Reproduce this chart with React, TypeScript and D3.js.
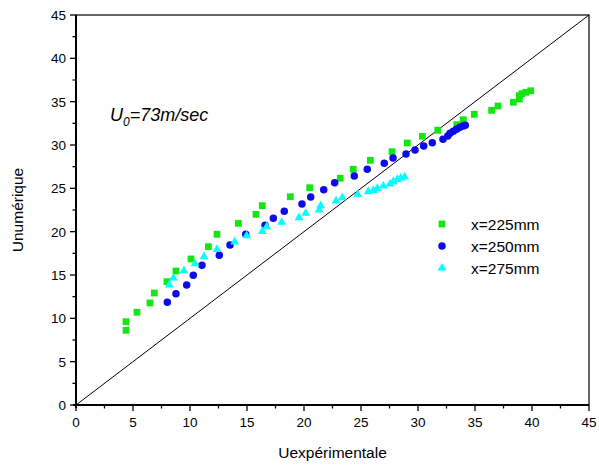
import React from 'react';
import * as d3 from 'd3';

const xTicks = [0, 5, 10, 15, 20, 25, 30, 35, 40, 45];
const yTicks = [0, 5, 10, 15, 20, 25, 30, 35, 40, 45];
const seriesNames = ['x=225mm', 'x=250mm', 'x=275mm'];

const x225 = [4.39, 4.39, 5.35, 6.49, 6.87, 7.98, 8.77, 10.09, 11.61, 12.37, 14.24, 15.79, 16.34, 18.8, 20.5, 23.18, 24.32, 25.82, 27.72, 29.06, 30.38, 31.73, 33.4, 33.97, 34.94, 36.46, 37.02, 38.36, 38.89, 38.89, 39.12, 39.47, 39.89];
const y225 = [8.62, 9.61, 10.7, 11.77, 12.92, 14.23, 15.46, 16.85, 18.27, 19.7, 20.96, 22.0, 23.0, 24.03, 25.07, 26.16, 27.2, 28.23, 29.23, 30.23, 31.0, 31.7, 32.34, 32.92, 33.54, 34.0, 34.5, 34.93, 35.3, 35.69, 35.92, 36.08, 36.26];

const x250 = [8.01, 8.77, 9.71, 10.29, 11.05, 12.57, 13.51, 14.89, 16.58, 17.31, 18.27, 19.82, 20.59, 21.73, 22.69, 24.41, 25.55, 27.04, 27.81, 28.95, 29.74, 30.5, 31.25, 32.19, 32.61, 32.81, 33.1, 33.39, 33.68, 33.97, 34.15];
const y250 = [11.85, 12.85, 13.85, 14.96, 16.12, 17.27, 18.46, 19.7, 20.73, 21.54, 22.35, 23.19, 24.0, 24.84, 25.65, 26.42, 27.2, 27.89, 28.5, 28.96, 29.42, 29.88, 30.26, 30.66, 31.04, 31.35, 31.58, 31.81, 32.04, 32.19, 32.27];

const x275 = [8.18, 8.54, 9.47, 10.44, 11.23, 12.37, 13.92, 14.97, 16.34, 16.73, 18.04, 19.56, 20.15, 21.32, 21.46, 22.81, 23.36, 24.71, 25.64, 26.08, 26.43, 26.96, 27.54, 27.83, 28.18, 28.48, 28.83];
const y275 = [13.85, 14.65, 15.5, 16.3, 17.11, 17.96, 18.81, 19.53, 20.04, 20.57, 21.08, 21.61, 22.12, 22.5, 23.0, 23.54, 23.92, 24.31, 24.61, 24.77, 25.0, 25.27, 25.5, 25.77, 26.04, 26.19, 26.31];

const W = 599;
const H = 465;
const left = 76, right = 589, top = 15, bottom = 405;
const FONT = '"Liberation Sans", Arial, sans-serif';

const colors = ['#14e614', '#0a0aeb', '#00ffff'];
const symbols = [d3.symbolSquare, d3.symbolCircle, d3.symbolTriangle];
const sizes = [46, 44, 34];

export default function App() {
  const xs = d3.scaleLinear().domain([0, 45]).range([left, right]);
  const ys = d3.scaleLinear().domain([0, 45]).range([bottom, top]);

  const series = [
    { xv: x225, yv: y225 },
    { xv: x250, yv: y250 },
    { xv: x275, yv: y275 },
  ];
  const symPaths = symbols.map((s, i) => d3.symbol().type(s).size(sizes[i])() as string);

  const minor = d3.range(0, 45.01, 2.5).filter((v) => v % 5 !== 0);
  const diag = d3.line<number>().x((d) => xs(d)).y((d) => ys(d))([0, 45]) as string;

  const legendY = [224, 246, 268];

  return (
    <svg width={W} height={H} style={{ position: 'absolute', left: 0, top: 0, background: '#fff' }} fontFamily={FONT}>
      <rect x={0} y={0} width={W} height={H} fill="#fff" />
      {/* diagonal */}
      <path d={diag} stroke="#000" strokeWidth={1} fill="none" />
      {/* frame */}
      <rect x={left} y={top} width={right - left} height={bottom - top} fill="none" stroke="#000" strokeWidth={1.2} />
      <line x1={left} x2={left} y1={top} y2={bottom + 3} stroke="#000" strokeWidth={2} />
      <line x1={left - 3} x2={right} y1={bottom} y2={bottom} stroke="#000" strokeWidth={2} />
      {/* x ticks */}
      {xTicks.map((t) => (
        <g key={'xt' + t}>
          <line x1={xs(t)} x2={xs(t)} y1={bottom} y2={bottom + 6} stroke="#000" strokeWidth={1.3} />
          <text x={xs(t)} y={bottom + 22} textAnchor="middle" fontSize={13.5}>{t}</text>
        </g>
      ))}
      {minor.map((t) => (
        <line key={'xm' + t} x1={xs(t)} x2={xs(t)} y1={bottom} y2={bottom + 3.5} stroke="#000" strokeWidth={1.3} />
      ))}
      {/* y ticks */}
      {yTicks.map((t) => (
        <g key={'yt' + t}>
          <line x1={left - 6} x2={left} y1={ys(t)} y2={ys(t)} stroke="#000" strokeWidth={1.3} />
          <text x={left - 10} y={ys(t) + 5} textAnchor="end" fontSize={13.5}>{t}</text>
        </g>
      ))}
      {minor.map((t) => (
        <line key={'ym' + t} x1={left - 3.5} x2={left} y1={ys(t)} y2={ys(t)} stroke="#000" strokeWidth={1.3} />
      ))}
      {/* axis titles */}
      <text x={(left + right) / 2} y={458} textAnchor="middle" fontSize={15.5}>Uexpérimentale</text>
      <text transform={`translate(23,${(top + bottom) / 2}) rotate(-90)`} textAnchor="middle" fontSize={15.5}>Unumérique</text>
      {/* annotation */}
      <text x={110} y={121} fontSize={18} fontStyle="italic">
        U<tspan fontSize={12} dy={5}>0</tspan><tspan dy={-5}>=73m/sec</tspan>
      </text>
      {/* data */}
      {series.map((s, i) => (
        <g key={'s' + i} fill={colors[i]}>
          {s.xv.map((xv, j) => (
            <path key={j} d={symPaths[i]} transform={`translate(${xs(xv)},${ys(s.yv[j])})`} />
          ))}
        </g>
      ))}
      {/* legend */}
      {seriesNames.map((n, i) => (
        <g key={'lg' + i}>
          <path d={symPaths[i]} fill={colors[i]} transform={`translate(442,${legendY[i]})`} />
          <text x={471} y={legendY[i] + 5.5} fontSize={15.5}>{n}</text>
        </g>
      ))}
    </svg>
  );
}
